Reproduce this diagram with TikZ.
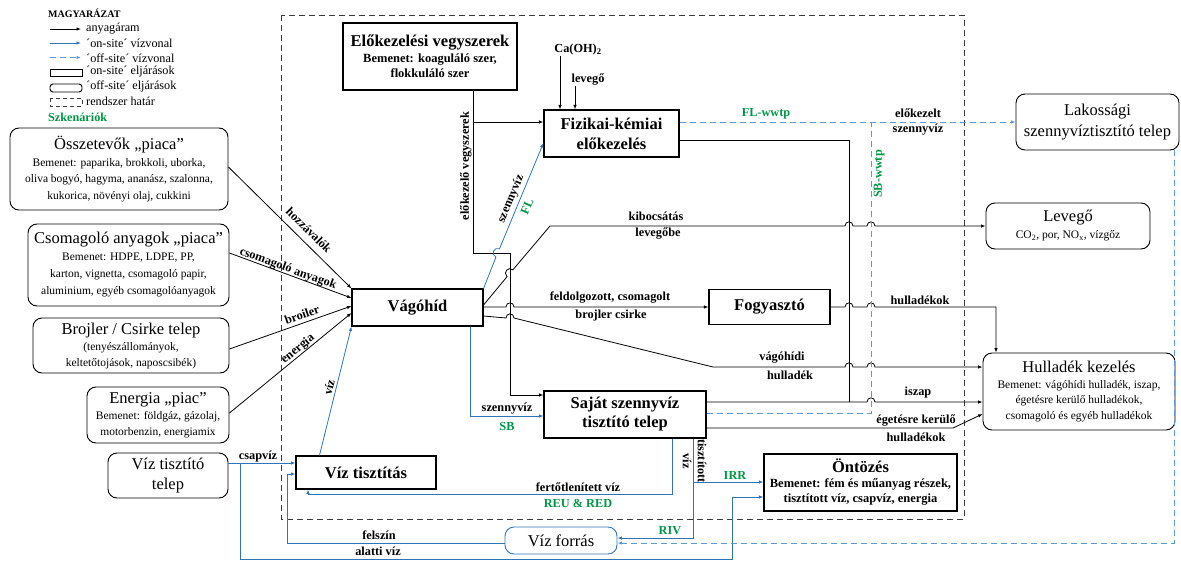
\documentclass[tikz,border=0pt]{standalone}
\usepackage{fontspec}
\setmainfont{Liberation Serif}
\usetikzlibrary{arrows.meta,calc}
\definecolor{wblue}{RGB}{46,117,182}
\definecolor{wdash}{RGB}{91,155,213}
\definecolor{scgreen}{RGB}{0,150,70}
\definecolor{bordergray}{RGB}{60,60,60}
\newcommand\fttl{\fontsize{16.5}{19}\selectfont}
\newcommand\flbl{\fontsize{12.3}{14}\selectfont\bfseries}
\newcommand\flegend{\fontsize{12.2}{14}\selectfont}
\tikzset{
  onsite/.style={draw, line width=1.1pt, inner sep=0pt, align=center},
  offsite/.style={draw, line width=0.9pt, rounded corners=9pt, inner sep=0pt, align=center},
  conn/.style={line width=0.8pt},
  flow/.style={conn, -{Latex[length=4.5pt,width=3.5pt]}},
  wflow/.style={flow, draw=wblue},
  wdashed/.style={flow, draw=wdash, dash pattern=on 6pt off 4pt, line width=1pt},
  sysbound/.style={draw=bordergray, line width=0.9pt, dash pattern=on 6pt off 4pt},
  lbl/.style={font=\flbl, inner sep=0pt},
  glbl/.style={lbl, text=scgreen},
  lgtxt/.style={font=\flegend, anchor=west, inner sep=0pt},
  hopx/.style args={#1/#2}{insert path={-- (#1-4,#2) .. controls (#1-4,#2-5.5) and (#1+4,#2-5.5) .. (#1+4,#2)}},
}
\begin{document}
\begin{tikzpicture}[x=1pt,y=-1pt]
\useasboundingbox (0,0) rectangle (1181,562);

% ---------- legend ----------
\node[font=\fontsize{10}{12}\selectfont\bfseries, anchor=west, inner sep=0pt] (lgt) at (48,13) {MAGYARÁZAT};
\draw[flow] (50,29) -- (81,29);
\node[lgtxt] (lg1) at (86,29) {anyagáram};
\draw[wflow] (50,43) -- (81,43);
\node[lgtxt] (lg2) at (86,43) {´on-site´ vízvonal};
\draw[wdashed] (50,57.5) -- (81,57.5);
\node[lgtxt] (lg3) at (86,58) {´off-site´ vízvonal};
\draw[line width=0.9pt] (50,69) rectangle (82,76);
\node[lgtxt] (lg4) at (86,72) {´on-site´ eljárások};
\draw[line width=0.9pt, rounded corners=3pt] (50,84) rectangle (82,92);
\node[lgtxt] (lg5) at (86,87) {´off-site´ eljárások};
\draw[sysbound, dash pattern=on 4pt off 3pt] (50,98) rectangle (82,106);
\node[lgtxt] (lg6) at (86,101) {rendszer határ};
\node[font=\fontsize{12.2}{14}\selectfont\bfseries, text=scgreen, anchor=west, inner sep=0pt] (lgsc) at (48,117) {Szkenáriók};

% ---------- system boundary ----------
\draw[sysbound] (281,15) rectangle (964,519);

% ---------- off-site processes ----------
\node[offsite, minimum width=218pt, minimum height=82pt, font=\fontsize{11.5}{16.5}\selectfont] (ossz) at (119,169)
  {{\fttl Összetevők „piaca”}\\Bemenet: paparika, brokkoli, uborka,\\oliva bogyó, hagyma, ananász, szalonna,\\kukorica, növényi olaj, cukkini};
\node[offsite, minimum width=201pt, minimum height=82pt, font=\fontsize{11.5}{17}\selectfont] (csom) at (128.5,265)
  {{\fttl Csomagoló anyagok „piaca”}\\Bemenet: HDPE, LDPE, PP,\\karton, vignetta, csomagoló papir,\\aluminium, egyéb csomagolóanyagok};
\node[offsite, minimum width=196pt, minimum height=55pt, font=\fontsize{11.5}{16}\selectfont] (broj) at (131,345.5)
  {{\fttl Brojler / Csirke telep}\\(tenyészállományok,\\keltetőtojások, naposcsibék)};
\node[offsite, minimum width=142pt, minimum height=56pt, font=\fontsize{11.5}{16}\selectfont] (ener) at (158,415)
  {{\fttl Energia „piac”}\\Bemenet: földgáz, gázolaj,\\motorbenzin, energiamix};
\node[offsite, minimum width=120pt, minimum height=45pt, font=\fontsize{16.5}{20}\selectfont] (viztt) at (168,475.5)
  {Víz tisztító\\telep};
\node[offsite, minimum width=163pt, minimum height=56pt, font=\fontsize{16.5}{21}\selectfont] (lakos) at (1097.5,122)
  {Lakossági\\szennyvíztisztító telep};
\node[offsite, minimum width=164pt, minimum height=46pt, font=\fontsize{11.5}{17}\selectfont] (levego) at (1068,226)
  {{\fttl Levegő}\\CO\textsubscript{2}, por, NO\textsubscript{x}, vízgőz};
\node[offsite, minimum width=192pt, minimum height=77pt, font=\fontsize{11.5}{15.5}\selectfont] (hullad) at (1079,391.5)
  {{\fttl Hulladék kezelés}\\Bemenet: vágóhídi hulladék, iszap,\\égetésre kerülő hulladékok,\\csomagoló és egyéb hulladékok};
\node[offsite, draw=wblue, minimum width=112pt, minimum height=27pt, font=\fontsize{16.5}{20}\selectfont] (vizfor) at (561,540.5)
  {Víz forrás};

% ---------- on-site processes ----------
\node[onsite, minimum width=174pt, minimum height=67pt, font=\fontsize{12.5}{15.5}\selectfont\bfseries] (elok) at (430,56.5)
  {{\fttl Előkezelési vegyszerek}\\Bemenet: koaguláló szer,\\flokkuláló szer};
\node[onsite, minimum width=135pt, minimum height=47pt, font=\fontsize{16.5}{20}\selectfont\bfseries] (fiz) at (611.5,133.5)
  {Fizikai-kémiai\\előkezelés};
\node[onsite, minimum width=131pt, minimum height=37pt, font=\fttl\bfseries] (vago) at (417.5,307.5) {Vágóhíd};
\node[onsite, minimum width=121pt, minimum height=35pt, font=\fttl\bfseries] (fogy) at (769.5,307) {Fogyasztó};
\node[onsite, minimum width=162pt, minimum height=47pt, font=\fontsize{16.5}{19}\selectfont\bfseries] (sajat) at (625,414.5)
  {Saját szennyvíz\\tisztító telep};
\node[onsite, minimum width=140pt, minimum height=33pt, font=\fttl\bfseries] (viztis) at (366,472.5) {Víz tisztítás};
\node[onsite, minimum width=193pt, minimum height=57pt, font=\fontsize{12.5}{15}\selectfont\bfseries] (ontoz) at (860.5,482.5)
  {{\fttl Öntözés}\\Bemenet: fém és műanyag részek,\\tisztított víz, csapvíz, energia};

% ---------- inputs of the slaughterhouse ----------
\draw[flow] (ossz.east |- 0,167) -- (vago.north west);
\draw[flow] (csom.east |- 0,253) -- (vago.west |- 0,298);
\draw[flow] (broj.east |- 0,349) -- (vago.west |- 0,306);
\draw[flow] (ener.east |- 0,413) -- (vago.west |- 0,313);
\node[lbl, rotate=-45] (l-hoz) at (309,230) {hozzávalók};
\node[lbl, rotate=-20] (l-csom) at (288,269) {csomagoló anyagok};
\node[lbl, rotate=19] (l-broj) at (302,315) {broiler};
\node[lbl, rotate=39] (l-ener) at (298,349) {energia};

% ---------- tap water ----------
\coordinate (csapsplit) at (240,463);
\draw[wflow] (viztt.east |- 0,463) -- (viztis.west |- 0,463);
\draw[wflow] (csapsplit) -- (csapsplit |- 0,559) -- (732,559) -- (732,497) -- (ontoz.west |- 0,497);
\node[lbl] (l-csap) at (258,457) {csapvíz};

\draw[wflow] ($(viztis.north west)+(24,0)$) -- (vago.south west);
\node[lbl, rotate=76] (l-viz) at (329,387) {víz};

% ---------- pre-treatment chemicals ----------
\draw[flow] (473,0 |- elok.south) -- (473,253) -- (510,253) -- (510,395) -- (sajat.west |- 0,395);
\draw[flow] (473,122) -- (fiz.west |- 0,122);
\node[lbl, rotate=90] (l-elok) at (466,166) {előkezelő vegyszerek};

\node[lbl] (caoh) at (578,50) {Ca(OH)\textsubscript{2}};
\node[lbl] (levin) at (588,80) {levegő};
\draw[flow] (560,0 |- caoh.south) -- (560,0 |- fiz.north);
\draw[flow] (575,0 |- levin.south) -- (575,0 |- fiz.north);

% ---------- wastewater to pre-treatment (FL) ----------
\draw[wflow] (vago.north east) -- (495.95,257.15) .. controls (490.4,254.8) and (493.9,246.5) .. (499.45,248.85) -- (fiz.west |- 0,143);
\node[lbl, rotate=67] (l-fl1) at (511,199) {szennyvíz};
\node[glbl, rotate=67] (l-fl2) at (527,207) {FL};

% ---------- emission to air ----------
\draw[flow] (vago.east |- 0,305) -- (507.1,276.6) .. controls (502.5,272.7) and (508.3,265.9) .. (512.9,269.8)
  -- (550,226) [hopx=849/226] [hopx=871/226] -- (levego.west |- 0,226);
\node[lbl] (l-kib1) at (656,216) {kibocsátás};
\node[lbl] (l-kib2) at (658,234) {levegőbe};

% ---------- product ----------
\draw[flow] (vago.east |- 0,307) [hopx=510/307] -- (fogy.west |- 0,307);
\node[lbl] (l-feld1) at (610,298) {feldolgozott, csomagolt};
\node[lbl] (l-feld2) at (611,316) {brojler csirke};

% ---------- slaughterhouse waste ----------
\draw[flow] (vago.east |- 0,316) -- (506,318) .. controls (506,312.5) and (514,312.5) .. (514,318) -- (522,320)
  -- (713,367) [hopx=849/367] [hopx=871/367] -- (hullad.west |- 0,367);
\node[lbl] (l-vh1) at (782,358) {vágóhídi};
\node[lbl] (l-vh2) at (790,375) {hulladék};

% ---------- consumer waste ----------
\draw[flow] (fogy.east |- 0,307) [hopx=849/307] [hopx=871/307] -- (996,307) -- (996,0 |- hullad.north);
\node[lbl] (l-hk) at (920,300) {hulladékok};

% ---------- sludge ----------
\draw[conn] (fiz.east |- 0,140) -- (849,140) -- (849,402);
\draw[flow] (sajat.east |- 0,402) [hopx=871/402] -- (hullad.west |- 0,402);
\node[lbl] (l-isz) at (918,393) {iszap};

% ---------- incinerated waste ----------
\draw[flow] (sajat.east |- 0,428) -- (953,428) -- (hullad.west |- 0,414);
\node[lbl] (l-eg1) at (916,421) {égetésre kerülő};
\node[lbl] (l-eg2) at (916,437) {hulladékok};

% ---------- off-site wastewater ----------
\draw[wdashed] (fiz.east |- 0,122) -- (lakos.west |- 0,122);
\node[glbl] (l-flw) at (766,114) {FL-wwtp};
\node[lbl] (l-ek1) at (918,113) {előkezelt};
\node[lbl] (l-ek2) at (918,130) {szennyvíz};
\draw[wdashed, -] (sajat.east |- 0,413) -- (871,413) -- (871,122);
\node[glbl, rotate=90] (l-sbw) at (879,174) {SB-wwtp};
\draw[wdashed] (1174,0 |- lakos.south) -- (1174,543) -- (vizfor.east |- 0,543);

% ---------- treated water ----------
\draw[wflow] (693,0 |- sajat.south) -- (693,538) -- (vizfor.east |- 0,538);
\draw[wflow] (693,482) -- (ontoz.west |- 0,482);
\node[lbl, rotate=-90] (l-tv1) at (702,461) {tisztított};
\node[lbl, rotate=-90] (l-tv2) at (687,461) {víz};
\node[glbl] (l-irr) at (735,475) {IRR};
\node[glbl] (l-riv) at (670,531) {RIV};

\draw[wflow] (672,0 |- sajat.south) -- (672,494) -- (308,494) -- (308,0 |- viztis.south);
\node[lbl] (l-fv) at (578,487) {fertőtlenített víz};
\node[glbl] (l-reu) at (578,503) {REU \& RED};

% ---------- slaughterhouse wastewater (SB) ----------
\draw[wflow] (470,0 |- vago.south) -- (470,416) -- (sajat.west |- 0,416);
\node[lbl] (l-sb1) at (507,409) {szennyvíz};
\node[glbl] (l-sb2) at (507,426) {SB};

% ---------- ground water ----------
\draw[wflow] (vizfor.west |- 0,543) -- (287,543) -- (287,474) -- (viztis.west |- 0,474);
\node[lbl] (l-fa1) at (379,535) {felszín};
\node[lbl] (l-fa2) at (378,551) {alatti víz};
\end{tikzpicture}
\end{document}
